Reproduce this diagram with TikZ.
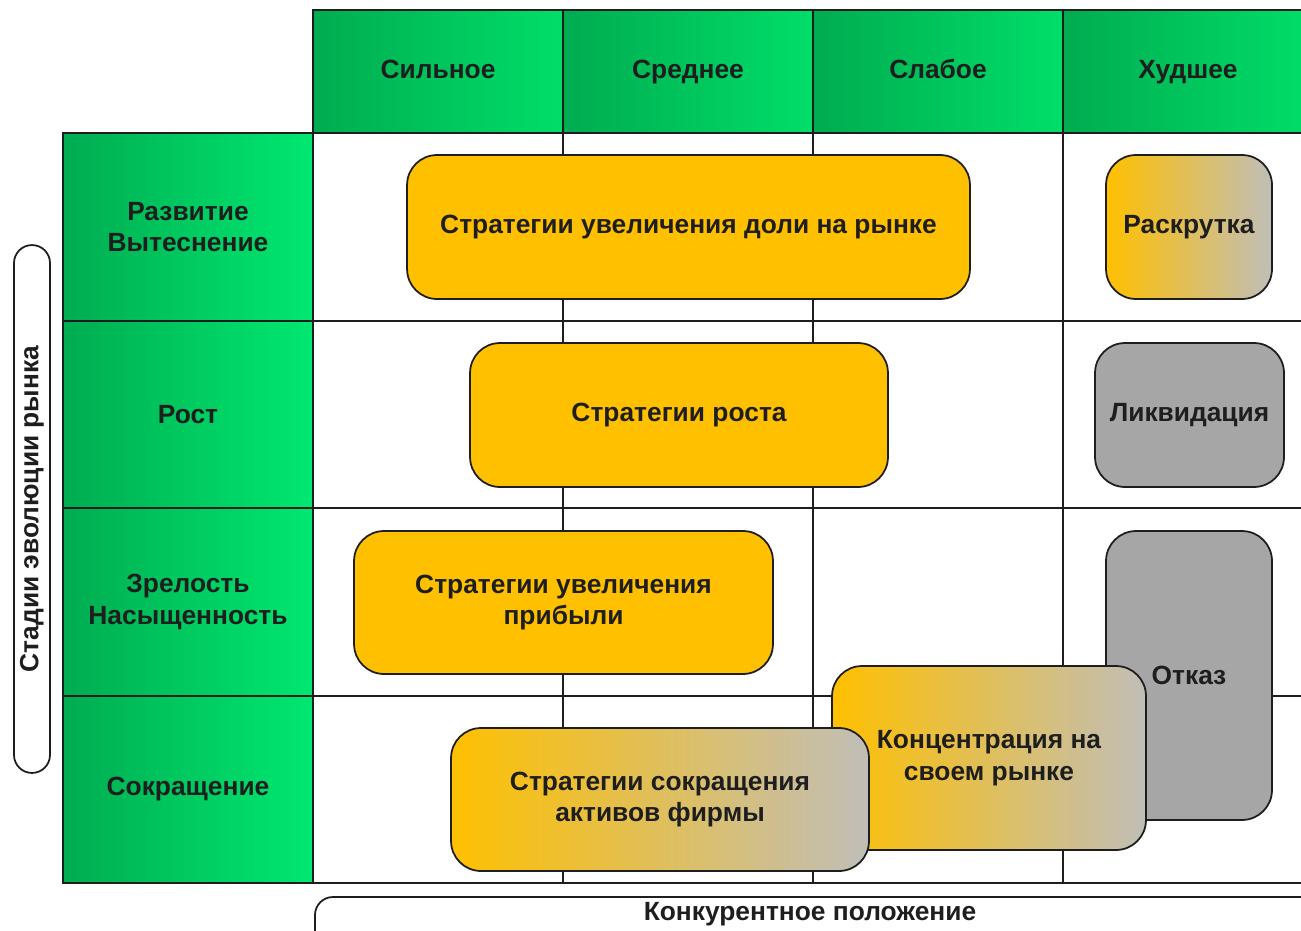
\documentclass[tikz,border=0pt]{standalone}
\usepackage{fontspec}
\setmainfont{Liberation Sans}

\definecolor{grnDark}{RGB}{0,172,80}
\definecolor{grnLight}{RGB}{0,222,104}
\definecolor{grnBright}{RGB}{0,232,112}
\definecolor{stratOrange}{RGB}{255,192,0}
\definecolor{stratFade}{RGB}{192,190,184}
\definecolor{stratGrey}{RGB}{166,166,166}
\definecolor{inkDark}{RGB}{30,30,30}

\tikzset{
  txt/.style={font=\bfseries\fontsize{15}{18}\selectfont, text=inkDark, align=center},
  cell/.style={txt, draw=inkDark, line width=1pt, inner sep=0pt, minimum width=5cm},
  colhead/.style={cell, minimum height=2.46cm, text height=11pt, text depth=3pt,
    left color=grnDark, right color=grnLight},
  rowhead/.style={cell, minimum height=3.75cm, left color=grnDark, right color=grnBright},
  gridline/.style={draw=inkDark, line width=1pt},
  plan/.style={txt, draw=inkDark, line width=1pt, rounded corners=0.6cm, inner sep=0pt},
  solidplan/.style={plan, fill=stratOrange},
  fadeplan/.style={plan, left color=stratOrange, right color=stratFade},
  greyplan/.style={plan, fill=stratGrey},
  axisbar/.style={draw=inkDark, line width=1pt, rounded corners=0.36cm},
}

\begin{document}
\begin{tikzpicture}[x=0.02cm,y=-0.02cm]
\useasboundingbox (0,0) rectangle (1301,930);

% table lines
\foreach \x in {313,563,813,1063}
  \draw[gridline] (\x,133) -- (\x,883);
\foreach \y in {321,508,696,883}
  \draw[gridline] (63,\y) -- (1330,\y);

% column heads
\node[colhead] (hStrong) at (438,71.5) {Сильное};
\node[colhead] (hMiddle) at (688,71.5) {Среднее};
\node[colhead] (hWeak) at (938,71.5) {Слабое};
\node[colhead] (hWorst) at (1188,71.5) {Худшее};

% row heads
\node[rowhead] (rDevelop) at (188,227) {Развитие\\Вытеснение};
\node[rowhead] (rGrowth) at (188,414.5) {Рост};
\node[rowhead] (rMature) at (188,602) {Зрелость\\Насыщенность};
\node[rowhead] (rDecline) at (188,789.5) {Сокращение};

% strategies
\node[solidplan, minimum width=11.26cm, minimum height=2.88cm] (sShare) at (688.5,227) {Стратегии увеличения доли на рынке};
\node[fadeplan, minimum width=3.32cm, minimum height=2.88cm] (sPromo) at (1189,227) {Раскрутка};
\node[solidplan, minimum width=8.36cm, minimum height=2.88cm] (sGrowth) at (679,415) {Стратегии роста};
\node[greyplan, minimum width=3.78cm, minimum height=2.88cm] (sLiquid) at (1189.5,415) {Ликвидация};
\node[solidplan, minimum width=8.38cm, minimum height=2.86cm] (sProfit) at (563.5,602.5) {Стратегии увеличения\\прибыли};
\node[greyplan, minimum width=3.32cm, minimum height=5.78cm] (sRefuse) at (1189,675.5) {Отказ};
\node[fadeplan, minimum width=6.28cm, minimum height=3.68cm] (sFocus) at (989,758) {Концентрация на\\своем рынке};
\node[fadeplan, minimum width=8.36cm, minimum height=2.86cm] (sShrink) at (660,799.5) {Стратегии сокращения\\активов фирмы};

% axis captions
\node[txt, draw=inkDark, line width=1pt, rounded corners=0.36cm, inner sep=0pt,
  minimum width=10.56cm, minimum height=0.72cm, rotate=90] (stageLabel) at (32,509) {Стадии эволюции рынка};
\draw[axisbar] (315,897) rectangle (1330,960);
\node[txt] (posLabel) at (810,914) {Конкурентное положение};

\end{tikzpicture}
\end{document}
